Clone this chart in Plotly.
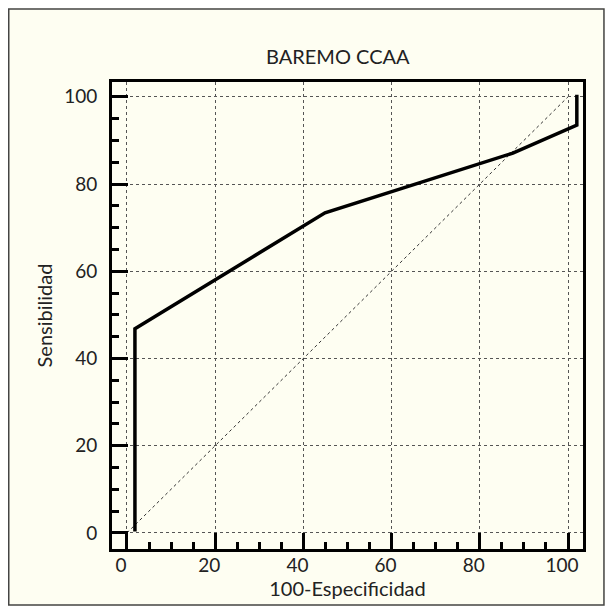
import plotly.graph_objects as go

# ROC curve data (100-Especificidad vs Sensibilidad)
fpr = [1.8, 1.8, 44.9, 87.5, 102.0, 102.0]
sens = [0.3, 46.8, 73.4, 87.1, 93.5, 100.5]
diag_x = [0, 100]
diag_y = [0, 100]
tick_vals = [0, 20, 40, 60, 80, 100]
tick_text = ["0", "20", "40", "60", "80", "100"]

title_text = "BAREMO CCAA"
x_title = "100-Especificidad"
y_title = "Sensibilidad"

FONT = "Lato, 'Open Sans', sans-serif"
BG = "#fefef2"

fig = go.Figure()
fig.add_trace(go.Scatter(x=diag_x, y=diag_y, mode="lines",
                         line=dict(color="#333333", width=1, dash="dot"),
                         hoverinfo="skip", showlegend=False))
fig.add_trace(go.Scatter(x=fpr, y=sens, mode="lines",
                         line=dict(color="black", width=3.5),
                         showlegend=False))

axis_common = dict(
    showline=True, linecolor="black", linewidth=3, mirror=True,
    ticks="inside", ticklen=16, tickwidth=3, tickcolor="black",
    tickvals=tick_vals, ticktext=tick_text,
    showgrid=True, gridcolor="#555555", gridwidth=1, griddash="dot",
    zeroline=False, automargin=False,
    tickfont=dict(family=FONT, size=19, color="#222222"),
    minor=dict(ticks="inside", ticklen=7, tickwidth=2.5, tickcolor="black",
               dtick=5, showgrid=False),
)

fig.update_xaxes(range=[-3.4, 103.4], ticklabelshift=-6, ticklabelstandoff=-3,
                 title=dict(text=x_title, standoff=8,
                            font=dict(family=FONT, size=20, color="#222222")),
                 **axis_common)
fig.update_yaxes(range=[-3.7, 103.4], ticklabelstandoff=8,
                 title=dict(text=y_title, standoff=7,
                            font=dict(family=FONT, size=20, color="#222222")),
                 **axis_common)

fig.add_annotation(text=title_text, xref="paper", yref="paper",
                   x=0.48, y=1.056, xanchor="center", yanchor="middle",
                   showarrow=False,
                   font=dict(family=FONT, size=20, color="#222222"))

fig.add_shape(type="rect", xref="paper", yref="paper",
              x0=-0.2192, x1=1.0445, y0=-0.1199, y1=1.1565,
              line=dict(color="#444444", width=1.5), layer="below")

fig.update_layout(
    width=597, height=598,
    margin=dict(l=104, r=22, t=74, b=57),
    paper_bgcolor=BG, plot_bgcolor=BG,
    font=dict(family=FONT, color="#222222"),
)

fig.write_html("out.html")
